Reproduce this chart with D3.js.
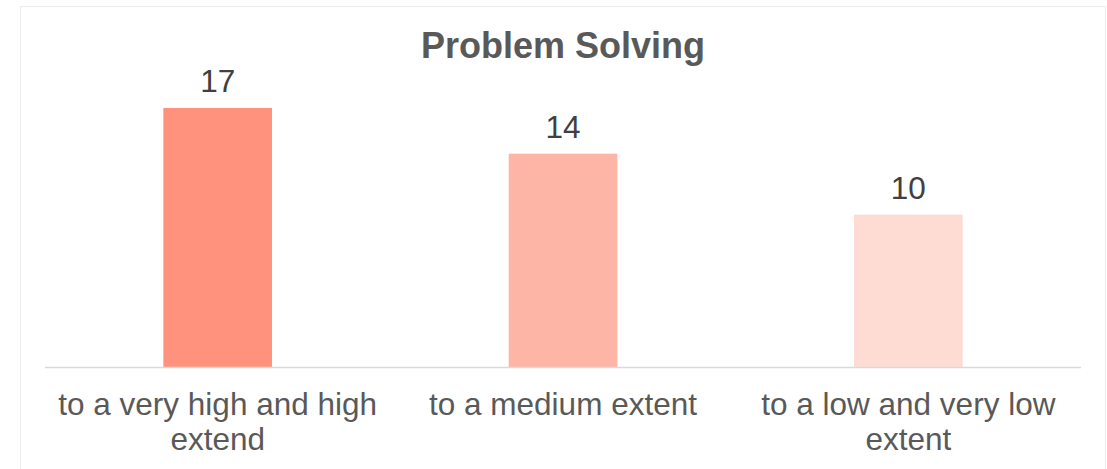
<!DOCTYPE html>
<html>
<head>
<meta charset="utf-8">
<script src="https://cdn.jsdelivr.net/npm/d3@7"></script>
<style>
  html, body { margin: 0; padding: 0; background: #fff; }
  svg { display: block; }
  text { font-family: "Liberation Sans", Arial, Helvetica, sans-serif; }
</style>
</head>
<body>
<svg id="chart" width="1107" height="469"></svg>
<script>
const title = "Problem Solving";
const categories = ["to a very high and high extend", "to a medium extent", "to a low and very low extent"];
const values = [17, 14, 10];
const colors = ["#FF927D", "#FDB5A6", "#FEDCD4"];

const W = 1107, H = 469;
const svg = d3.select("#chart");

// outer frame
svg.append("rect")
  .attr("x", 20.5).attr("y", 6.5)
  .attr("width", 1085).attr("height", 480)
  .attr("fill", "#fff").attr("stroke", "#ececec").attr("stroke-width", 1);

const plotLeft = 45, plotRight = 1081, baseY = 367;

const x = d3.scaleBand()
  .domain(categories)
  .range([plotLeft, plotRight])
  .paddingInner(0.6855)
  .paddingOuter(0.34275);

const y = d3.scaleLinear()
  .domain([0, 17])
  .range([baseY, 108]);

// title
svg.append("text")
  .attr("x", 563).attr("y", 58)
  .attr("text-anchor", "middle")
  .attr("font-size", 36)
  .attr("font-weight", "bold")
  .attr("fill", "#595959")
  .text(title);

// bars
svg.selectAll("rect.bar")
  .data(values)
  .join("rect")
  .attr("class", "bar")
  .attr("x", (d, i) => x(categories[i]))
  .attr("y", d => y(d))
  .attr("width", x.bandwidth())
  .attr("height", d => y(0) - y(d))
  .attr("fill", (d, i) => colors[i]);

// value labels
svg.selectAll("text.val")
  .data(values)
  .join("text")
  .attr("class", "val")
  .attr("x", (d, i) => x(categories[i]) + x.bandwidth() / 2)
  .attr("y", d => y(d) - 16)
  .attr("text-anchor", "middle")
  .attr("font-size", 31.5)
  .attr("fill", "#404040")
  .text(d => d);

// x axis
const axis = svg.append("g")
  .attr("transform", `translate(0,${baseY})`)
  .call(d3.axisBottom(x).tickSize(0).tickFormat(""));
axis.select(".domain").attr("stroke", "#d9d9d9").attr("stroke-width", 1.5)
  .attr("d", `M${plotLeft},0.5H${plotRight}`);

// category labels with wrapping
const maxW = x.step() - 8;
categories.forEach((c, i) => {
  const cx = x(c) + x.bandwidth() / 2;
  const t = svg.append("text")
    .attr("text-anchor", "middle")
    .attr("font-size", 31.5)
    .attr("fill", "#595959");
  const words = c.split(" ");
  let lines = [], line = [];
  const probe = t.append("tspan");
  words.forEach(w => {
    const test = line.concat([w]).join(" ");
    probe.text(test);
    if (probe.node().getComputedTextLength() > maxW && line.length) {
      lines.push(line.join(" "));
      line = [w];
    } else {
      line.push(w);
    }
  });
  lines.push(line.join(" "));
  probe.remove();
  lines.forEach((l, j) => {
    t.append("tspan").attr("x", cx).attr("y", 415 + j * 35).text(l);
  });
});
</script>
</body>
</html>
